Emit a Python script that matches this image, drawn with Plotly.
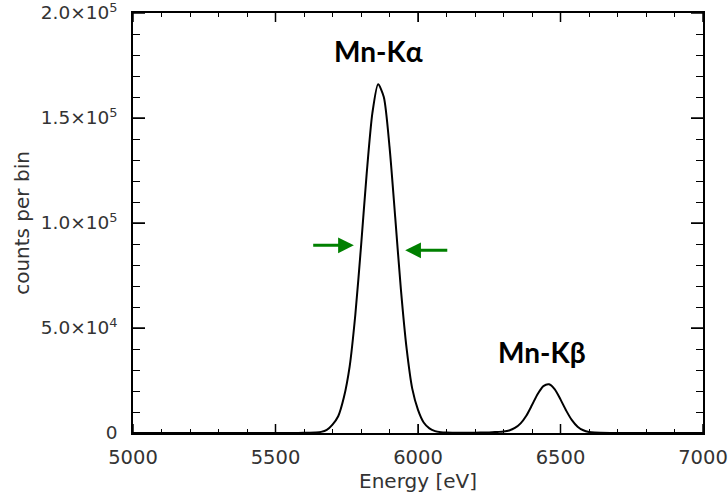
import plotly.graph_objects as go

# Spectrum (energy in eV, counts per bin)
energy = [5000, 5200, 5400, 5500, 5560, 5600, 5620, 5640, 5660, 5680, 5700, 5720, 5740,
          5760, 5780, 5800, 5820, 5840, 5860, 5880, 5900, 5920, 5940, 5960, 5980,
          6000, 6020, 6040, 6060, 6080, 6100, 6120, 6150, 6200, 6240, 6260, 6280,
          6300, 6320, 6340, 6360, 6380, 6400, 6420, 6440, 6460, 6480, 6500, 6520,
          6540, 6560, 6580, 6600, 6620, 6640, 6680, 6750, 6850, 7000]
counts = [20, 25, 30, 35, 45, 60, 120, 250, 550, 1500, 4000, 8000, 17000,
          31500, 56200, 88700, 123600, 152400, 166100, 160000, 136400, 102800, 68400, 40300, 21000,
          11000, 5000, 2200, 900, 400, 200, 120, 90, 150, 250, 350, 500,
          700, 1200, 2400, 4600, 8230, 13300, 18600, 22350, 23200, 20760, 16000, 10660,
          6130, 3030, 1300, 480, 180, 70, 20, 10, 5, 5]

x_tickvals = [5000, 5500, 6000, 6500, 7000]
y_tickvals = [0, 50000, 100000, 150000, 200000]
y_ticktext = ["0", "5.0×10<sup>4</sup>", "1.0×10<sup>5</sup>", "1.5×10<sup>5</sup>", "2.0×10<sup>5</sup>"]

peak_labels = ["Mn-Kα", "Mn-Kβ"]
peak_label_x = [5860, 6435]
peak_label_y = [181700, 38500]

# FWHM arrows: (tip x, tip y, tail x)
arrow_tip_x = [5775, 5955]
arrow_tip_y = [89400, 87000]
arrow_tail_x = [5627, 6108]

x_range = [5000, 7000]
y_range = [0, 200000]

W, H = 728, 495
M = dict(l=133, r=25, t=13, b=62)
plot_w = W - M["l"] - M["r"]
plot_h = H - M["t"] - M["b"]

fig = go.Figure()
fig.add_trace(go.Scatter(x=energy, y=counts, mode="lines",
                         line=dict(color="black", width=2, shape="spline", smoothing=0.7),
                         showlegend=False, hoverinfo="skip"))

for t, xx, yy in zip(peak_labels, peak_label_x, peak_label_y):
    fig.add_annotation(x=xx, y=yy, xref="x", yref="y", text=t, showarrow=False,
                       font=dict(family="Lato", size=28, color="black", weight="bold"))

for tx, ty, ax in zip(arrow_tip_x, arrow_tip_y, arrow_tail_x):
    fig.add_annotation(x=tx, y=ty, ax=ax, ay=ty, xref="x", yref="y", axref="x", ayref="y",
                       text="", showarrow=True, arrowhead=2, arrowsize=1.05, arrowwidth=3,
                       arrowcolor="#008000", standoff=0, startstandoff=0)

# long (major) tick marks on all four sides, placed at the tick values via the axes
tick_line = dict(color="black", width=1.5)
xt = 9 / plot_h   # 9 px tick length as a fraction of plot height
yt = 12 / plot_w  # 12 px tick length as a fraction of plot width
for v in x_tickvals:
    fig.add_shape(type="line", xref="x", yref="y domain", x0=v, x1=v, y0=0, y1=xt,
                  line=tick_line, layer="above")
    fig.add_shape(type="line", xref="x", yref="y domain", x0=v, x1=v, y0=1, y1=1 - xt,
                  line=tick_line, layer="above")
for v in y_tickvals:
    fig.add_shape(type="line", xref="x domain", yref="y", y0=v, y1=v, x0=0, x1=yt,
                  line=tick_line, layer="above")
    fig.add_shape(type="line", xref="x domain", yref="y", y0=v, y1=v, x0=1, x1=1 - yt,
                  line=tick_line, layer="above")

x_tick_font = dict(family="DejaVu Sans", size=19.5, color="#333333")
y_tick_font = dict(family="DejaVu Sans", size=18.5, color="#333333")
title_font = dict(family="DejaVu Sans", size=20, color="#333333")

fig.update_layout(
    width=W, height=H, margin=dict(**M, autoexpand=False),
    paper_bgcolor="white", plot_bgcolor="white",
    xaxis=dict(range=x_range, tickmode="array", tickvals=x_tickvals, color="#000000",
               ticks="inside", ticklen=9, showline=True, linecolor="black",
               linewidth=1.5, mirror="ticks", showgrid=False, zeroline=False,
               tickfont=x_tick_font, ticklabelstandoff=6, ticklabeloverflow="allow",
               minor=dict(dtick=100, tick0=5000, ticks="inside", ticklen=4.5),
               title=dict(text="Energy [eV]", font=title_font, standoff=4)),
    yaxis=dict(range=y_range, tickmode="array", tickvals=y_tickvals, ticktext=y_ticktext,
               color="#000000", ticks="inside", ticklen=12, showline=True, linecolor="black",
               linewidth=1.5, mirror="ticks", showgrid=False, zeroline=False,
               tickfont=y_tick_font, ticklabelstandoff=10, ticklabeloverflow="allow",
               minor=dict(dtick=10000, tick0=0, ticks="inside", ticklen=7),
               title=dict(text="counts per bin", font=title_font, standoff=6)),
)

fig.write_html("out.html")
